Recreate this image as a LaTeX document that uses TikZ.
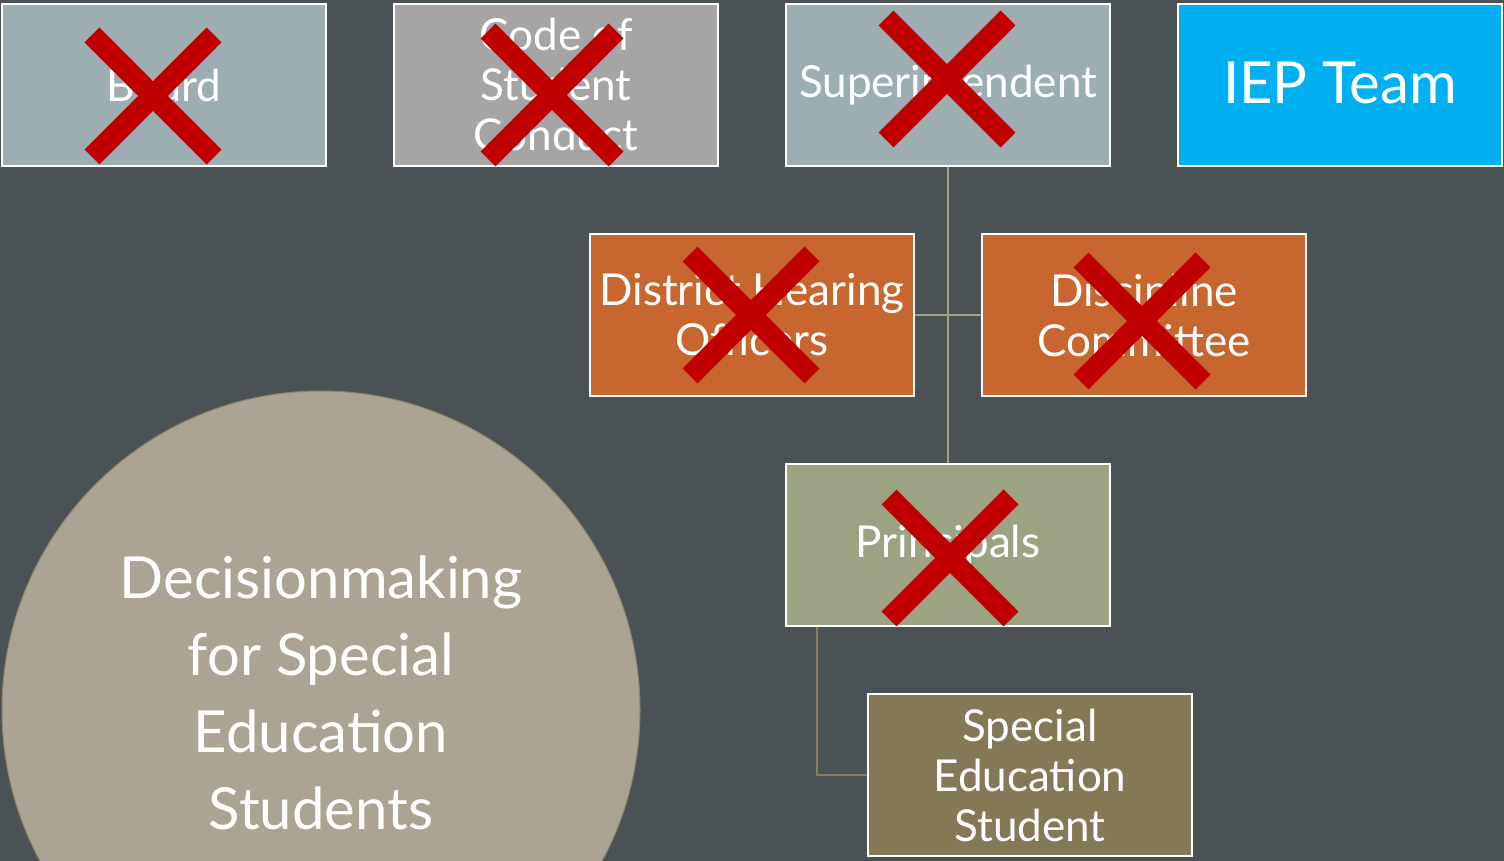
\documentclass[tikz,border=0pt]{standalone}
\usepackage{fontspec}
\setmainfont{Lato}
\definecolor{slide}{HTML}{4A5256}
\definecolor{steel}{HTML}{9DAEB3}
\definecolor{silver}{HTML}{A5A5A5}
\definecolor{sky}{HTML}{00B0F0}
\definecolor{rust}{HTML}{C86630}
\definecolor{sage}{HTML}{9CA383}
\definecolor{umber}{HTML}{857857}
\definecolor{stone}{HTML}{ABA393}
\definecolor{stoneedge}{HTML}{8F8468}
\definecolor{xred}{HTML}{C00000}
\definecolor{linkolive}{HTML}{A0A383}
\definecolor{linkbrown}{HTML}{8A7D5E}
\newcommand\redcross[3]{%
  \draw[xmark] (#1-#3,#2-#3) -- (#1+#3,#2+#3) (#1-#3,#2+#3) -- (#1+#3,#2-#3);}
\begin{document}
\begin{tikzpicture}[x=1pt,y=-1pt,
  box/.style={draw=white, line width=2pt, minimum width=324pt,
    minimum height=162pt, inner sep=0pt},
  boxtext/.style={text=white, align=center, inner sep=0pt,
    font=\fontsize{44}{50}\selectfont},
  bigtext/.style={text=white, align=center, inner sep=0pt,
    font=\fontsize{58}{77}\selectfont},
  xmark/.style={draw=xred, line width=21pt},
  link/.style={draw=linkolive, line width=2.5pt},
  sublink/.style={draw=linkbrown, line width=2.5pt}]
\useasboundingbox (0,0) rectangle (1504,861);
\fill[slide] (0,0) rectangle (1504,861);

% central topic circle, cut off by the lower edge
\begin{scope}
  \clip (0,0) rectangle (1504,861);
  \node[circle, minimum size=638pt, fill=stone, draw=stoneedge,
    line width=1pt, inner sep=0pt] (topic) at (321,710) {};
\end{scope}
\node[bigtext] (topictext) at (321,693)
  {Decisionmaking\\for Special\\Education\\Students};

% top row
\node[box, fill=steel]  (board) at (164,85) {};
\node[box, fill=silver] (code)  at (556,85) {};
\node[box, fill=steel]  (super) at (948,85) {};
\node[box, fill=sky]    (iep)   at (1340,85) {};
% middle row
\node[box, fill=rust] (hearing)    at (752,315) {};
\node[box, fill=rust] (discipline) at (1144,315) {};
% lower rows
\node[box, fill=sage]  (principals) at (948,545) {};
\node[box, fill=umber] (student)    at (1030,775) {};

% connectors
\draw[link] (super.south) -- (principals.north);
\draw[link] (hearing.east) -- (discipline.west);
\draw[sublink] ([xshift=32pt]principals.south west) |- (student.west);

% labels
\node[boxtext] at (board) {Board};
\node[boxtext] at (556,84) {Code of\\Student\\Conduct};
\node[boxtext] at (super) {Superintendent};
\node[text=white, inner sep=0pt, font=\fontsize{58}{64}\selectfont] at (1340,83) {IEP Team};
\node[boxtext] at (hearing) {District Hearing\\Officers};
\node[boxtext] at (discipline) {Discipline\\Committee};
\node[boxtext] at (principals) {Principals};
\node[boxtext] at (student) {Special\\Education\\Student};

% struck-out roles
\redcross{153}{96}{61}
\redcross{552}{95}{64}
\redcross{947}{79}{61}
\redcross{751}{315}{61}
\redcross{1142}{321}{61}
\redcross{950}{558}{61}
\end{tikzpicture}
\end{document}
